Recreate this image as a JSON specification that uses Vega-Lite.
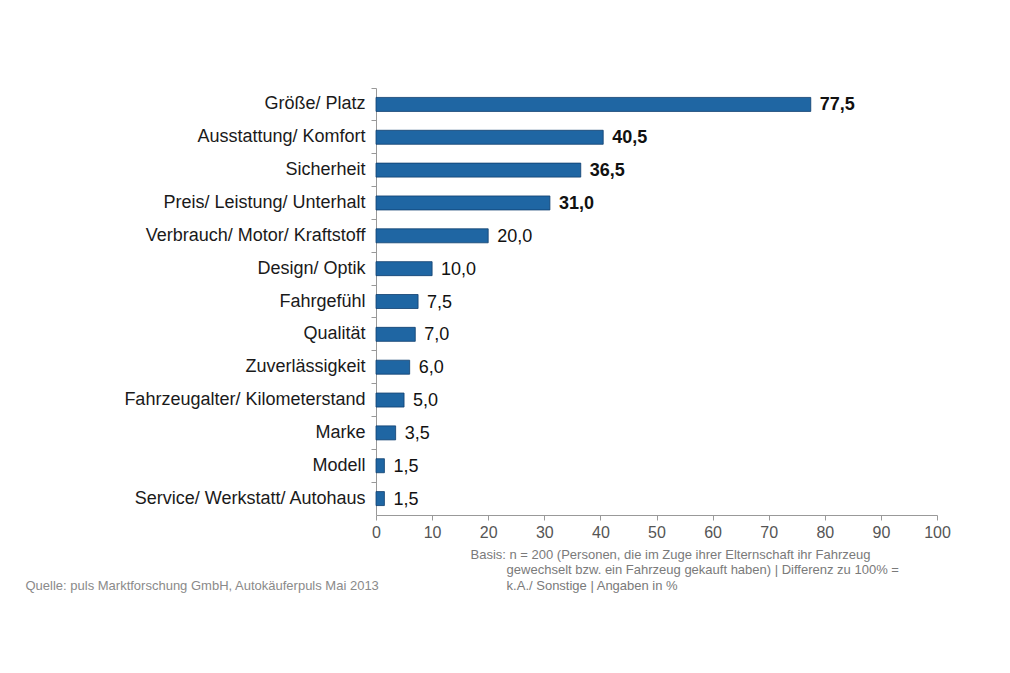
{
  "$schema": "https://vega.github.io/schema/vega-lite/v6.json",
  "autosize": "none",
  "padding": {"left": 376, "top": 88, "right": 73, "bottom": 158},
  "width": 561,
  "height": 427,
  "background": "white",
  "config": {
    "view": {"stroke": null},
    "locale": {
      "number": {"decimal": ",", "thousands": ".", "grouping": [3], "currency": ["", " €"]}
    }
  },
  "data": {
    "values": [
      {"kriterium": "Größe/ Platz", "value": 77.5},
      {"kriterium": "Ausstattung/ Komfort", "value": 40.5},
      {"kriterium": "Sicherheit", "value": 36.5},
      {"kriterium": "Preis/ Leistung/ Unterhalt", "value": 31.0},
      {"kriterium": "Verbrauch/ Motor/ Kraftstoff", "value": 20.0},
      {"kriterium": "Design/ Optik", "value": 10.0},
      {"kriterium": "Fahrgefühl", "value": 7.5},
      {"kriterium": "Qualität", "value": 7.0},
      {"kriterium": "Zuverlässigkeit", "value": 6.0},
      {"kriterium": "Fahrzeugalter/ Kilometerstand", "value": 5.0},
      {"kriterium": "Marke", "value": 3.5},
      {"kriterium": "Modell", "value": 1.5},
      {"kriterium": "Service/ Werkstatt/ Autohaus", "value": 1.5}
    ]
  },
  "encoding": {
    "y": {
      "field": "kriterium",
      "type": "nominal",
      "sort": null,
      "scale": {"paddingInner": 0, "paddingOuter": 0},
      "axis": {
        "title": "Quelle: puls Marktforschung GmbH, Autokäuferpuls Mai 2013",
        "titleAngle": 0,
        "titleX": -351,
        "titleY": 501,
        "titleAlign": "left",
        "titleBaseline": "alphabetic",
        "titleFont": "Liberation Sans, Arial, sans-serif",
        "titleFontSize": 13,
        "titleFontWeight": "normal",
        "titleColor": "#8a8a8a",
        "labelFont": "Liberation Sans, Arial, sans-serif",
        "labelFontSize": 18,
        "labelColor": "#1a1a1a",
        "labelPadding": 6,
        "labelLimit": 400,
        "domainColor": "#999999",
        "tickColor": "#999999",
        "tickSize": 5,
        "bandPosition": 0
      }
    },
    "x": {
      "field": "value",
      "type": "quantitative",
      "scale": {"domain": [0, 100], "nice": false},
      "axis": {
        "values": [0, 10, 20, 30, 40, 50, 60, 70, 80, 90, 100],
        "grid": false,
        "labelFlush": false,
        "title": [
          "Basis: n = 200 (Personen, die im Zuge ihrer Elternschaft ihr Fahrzeug",
          "\u200b\u00a0\u00a0\u00a0\u00a0\u00a0\u00a0\u00a0\u00a0\u00a0\u00a0gewechselt bzw. ein Fahrzeug gekauft haben) | Differenz zu 100% =",
          "\u200b\u00a0\u00a0\u00a0\u00a0\u00a0\u00a0\u00a0\u00a0\u00a0\u00a0k.A./ Sonstige | Angaben in %"
        ],
        "titleX": 94,
        "titleY": 33,
        "titleAlign": "left",
        "titleBaseline": "top",
        "titleLineHeight": 15.5,
        "titleFont": "Liberation Sans, Arial, sans-serif",
        "titleFontSize": 13,
        "titleFontWeight": "normal",
        "titleColor": "#7a7a7a",
        "labelFont": "Liberation Sans, Arial, sans-serif",
        "labelFontSize": 16,
        "labelColor": "#555555",
        "labelPadding": 4,
        "domainColor": "#999999",
        "tickColor": "#999999",
        "tickSize": 5
      }
    }
  },
  "layer": [
    {
      "mark": {
        "type": "bar",
        "height": 14,
        "fill": "#1f66a3",
        "stroke": "#0f3f6e",
        "strokeWidth": 0.8
      }
    },
    {
      "transform": [{"filter": "datum.value >= 30"}],
      "mark": {
        "type": "text",
        "align": "left",
        "baseline": "middle",
        "dx": 9,
        "dy": 1,
        "font": "Liberation Sans, Arial, sans-serif",
        "fontSize": 18,
        "fontWeight": "bold",
        "color": "#111111"
      },
      "encoding": {
        "text": {"field": "value", "type": "quantitative", "format": ".1f"}
      }
    },
    {
      "transform": [{"filter": "datum.value < 30"}],
      "mark": {
        "type": "text",
        "align": "left",
        "baseline": "middle",
        "dx": 9,
        "dy": 1,
        "font": "Liberation Sans, Arial, sans-serif",
        "fontSize": 18,
        "color": "#111111"
      },
      "encoding": {
        "text": {"field": "value", "type": "quantitative", "format": ".1f"}
      }
    }
  ]
}
